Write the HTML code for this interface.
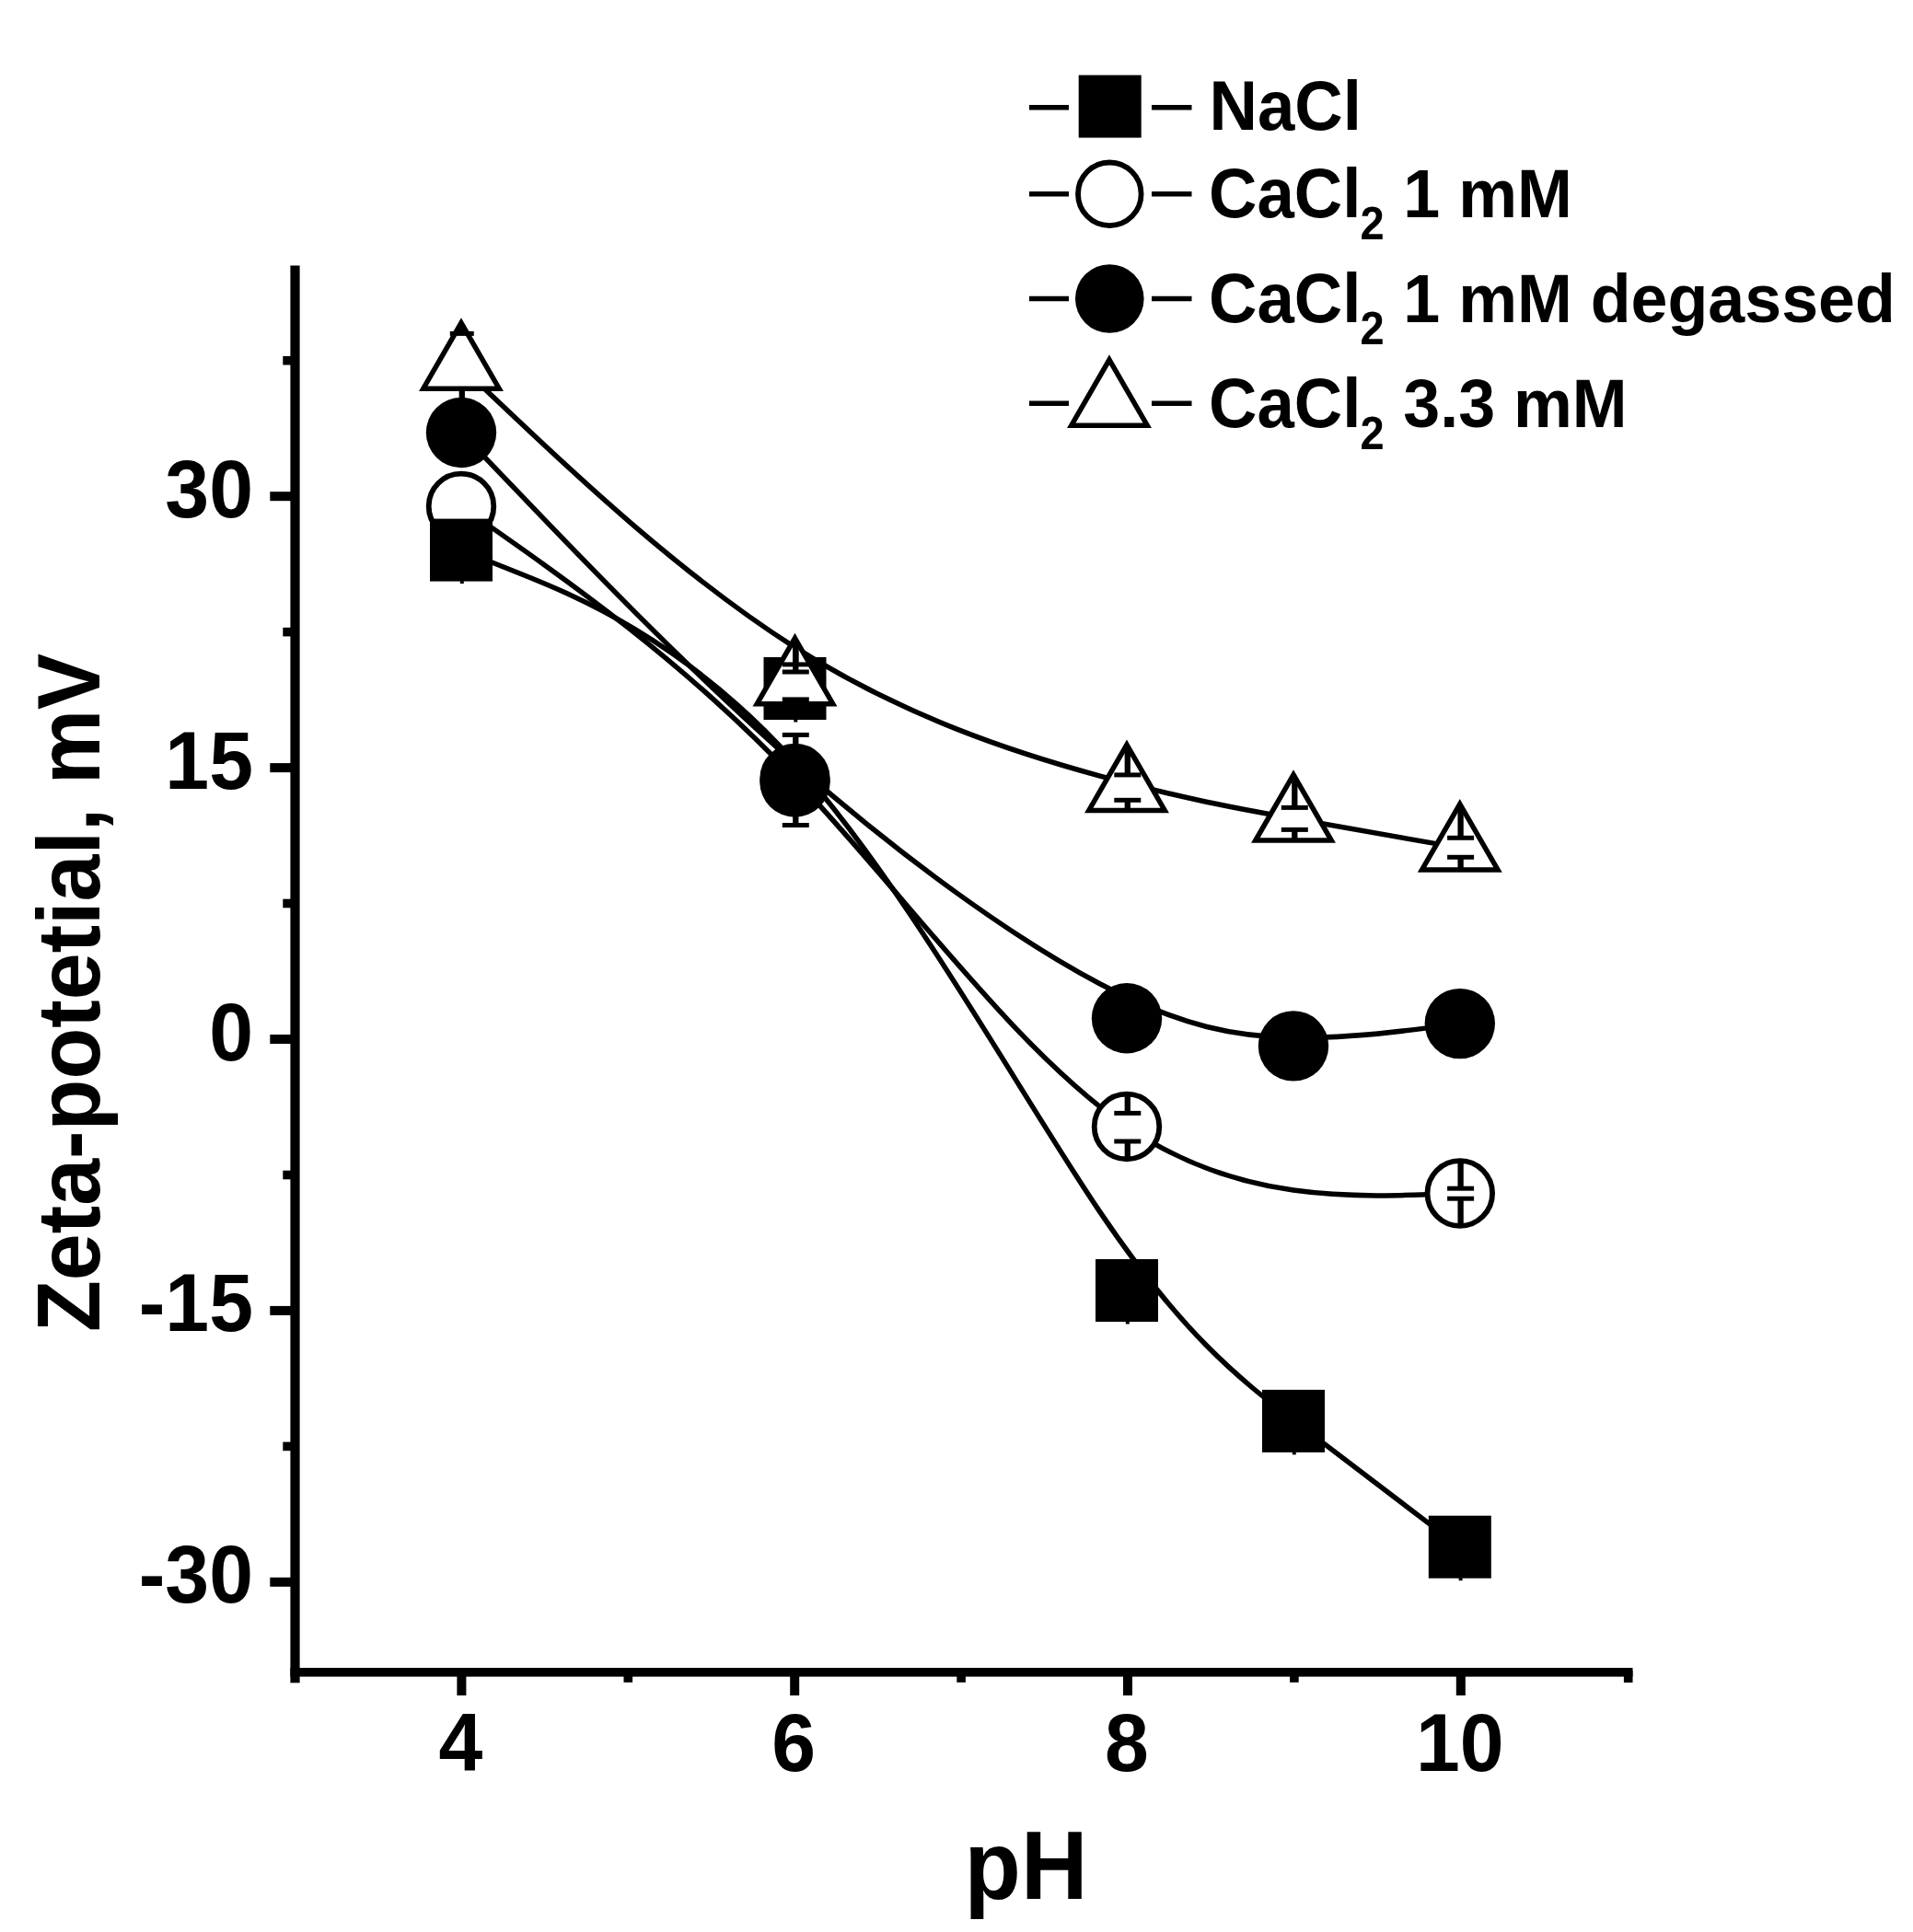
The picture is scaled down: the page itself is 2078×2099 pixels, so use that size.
<!DOCTYPE html>
<html><head><meta charset="utf-8"><title>Zeta-potential vs pH</title>
<style>html,body{margin:0;padding:0;background:#fff}svg{display:block;filter:blur(0.6px)}</style></head>
<body>
<svg width="2078" height="2099" viewBox="0 0 2078 2099">
<rect width="2078" height="2099" fill="#fff"/>
<g fill="#000">
<rect x="315.4" y="288.5" width="10.2" height="1539.8"/>
<rect x="315.4" y="1812" width="1458.1" height="9.6"/>
<rect x="293.3" y="534.2" width="24" height="10"/>
<rect x="293.3" y="829.1" width="24" height="10"/>
<rect x="293.3" y="1124.0" width="24" height="10"/>
<rect x="293.3" y="1418.9" width="24" height="10"/>
<rect x="293.3" y="1713.8" width="24" height="10"/>
<rect x="307.3" y="386.9" width="10" height="9.6"/>
<rect x="307.3" y="681.8" width="10" height="9.6"/>
<rect x="307.3" y="976.7" width="10" height="9.6"/>
<rect x="307.3" y="1271.7" width="10" height="9.6"/>
<rect x="307.3" y="1566.6" width="10" height="9.6"/>
<rect x="496.4" y="1815" width="10" height="27"/>
<rect x="858.2" y="1815" width="10" height="27"/>
<rect x="1220.0" y="1815" width="10" height="27"/>
<rect x="1581.8" y="1815" width="10" height="27"/>
<rect x="677.5" y="1815" width="9.6" height="12.8"/>
<rect x="1039.3" y="1815" width="9.6" height="12.8"/>
<rect x="1401.1" y="1815" width="9.6" height="12.8"/>
<rect x="1763.9" y="1815" width="9.6" height="13"/>
</g>
<g font-family="'Liberation Sans', Arial, sans-serif" font-weight="bold" fill="#000">
<text transform="translate(275 561.67) scale(1 1.045)" font-size="86" text-anchor="end">30</text>
<text transform="translate(275 856.585) scale(1 1.045)" font-size="86" text-anchor="end">15</text>
<text transform="translate(275 1151.5) scale(1 1.045)" font-size="86" text-anchor="end">0</text>
<text transform="translate(275 1446.41) scale(1 1.045)" font-size="86" text-anchor="end">-15</text>
<text transform="translate(275 1741.33) scale(1 1.045)" font-size="86" text-anchor="end">-30</text>
<text transform="translate(500.4 1923.5) scale(1 1.045)" font-size="86" text-anchor="middle">4</text>
<text transform="translate(862.2 1923.5) scale(1 1.045)" font-size="86" text-anchor="middle">6</text>
<text transform="translate(1224 1923.5) scale(1 1.045)" font-size="86" text-anchor="middle">8</text>
<text transform="translate(1585.8 1923.5) scale(1 1.045)" font-size="86" text-anchor="middle">10</text>
<text transform="translate(1114.5 2063) scale(1 1.055)" font-size="100.5" text-anchor="middle">pH</text>
<text transform="translate(107.5 1078.5) rotate(-90) scale(1 1.055)" font-size="91.5" text-anchor="middle">Zeta-potetial, mV</text>
<text transform="translate(1313.5 141) scale(1 1.035)" font-size="72.6" text-anchor="start">NaCl</text>
<text transform="translate(1313 236) scale(1 1.035)" font-size="72.6" text-anchor="start">CaCl</text>
<text transform="translate(1477.5 260.2) scale(1 1.06)" font-size="47" text-anchor="start">2</text>
<text transform="translate(1524.3 236) scale(1 1.035)" font-size="71.8" text-anchor="start">1 mM</text>
<text transform="translate(1313 349.8) scale(1 1.035)" font-size="72.6" text-anchor="start">CaCl</text>
<text transform="translate(1477.5 374) scale(1 1.06)" font-size="47" text-anchor="start">2</text>
<text transform="translate(1524.3 349.8) scale(1 1.035)" font-size="71.8" text-anchor="start">1 mM degassed</text>
<text transform="translate(1313 464) scale(1 1.035)" font-size="72.6" text-anchor="start">CaCl</text>
<text transform="translate(1477.5 488.2) scale(1 1.06)" font-size="47" text-anchor="start">2</text>
<text transform="translate(1524.3 464) scale(1 1.035)" font-size="71.8" text-anchor="start">3.3 mM</text>
</g>
<path d="M501.0 550.0C621.8 634.3 742.7 718.7 863.5 846.0C983.7 972.6 1103.8 1141.8 1224.0 1224.0C1344.6 1306.5 1465.2 1301.5 1585.8 1296.5" fill="none" stroke="#000" stroke-width="5.5" stroke-linecap="butt"/>
<circle cx="501.0" cy="550.0" r="35.3" fill="#fff" stroke="#000" stroke-width="5.8"/>
<circle cx="863.5" cy="846.0" r="35.3" fill="#fff" stroke="#000" stroke-width="5.8"/>
<circle cx="1224.0" cy="1224.0" r="35.3" fill="#fff" stroke="#000" stroke-width="5.8"/>
<circle cx="1585.8" cy="1296.5" r="35.3" fill="#fff" stroke="#000" stroke-width="5.8"/>
<path d="M501.0 470.0C501.0 470.0 501.0 470.0 561.4 533.2C621.8 596.5 742.7 723.0 863.2 829.1C983.7 935.1 1103.8 1020.7 1194.1 1068.5C1284.3 1116.3 1344.7 1126.4 1405.0 1127.3C1465.3 1128.3 1525.5 1120.2 1555.7 1116.1C1585.8 1112.1 1585.8 1112.1 1585.8 1112.1" fill="none" stroke="#000" stroke-width="5.5" stroke-linecap="butt"/>
<circle cx="501.0" cy="470.0" r="38.2" fill="#000"/>
<circle cx="863.5" cy="849.5" r="38.2" fill="#000"/>
<circle cx="1224.0" cy="1106.3" r="38.2" fill="#000"/>
<circle cx="1405.0" cy="1136.4" r="38.2" fill="#000"/>
<circle cx="1585.8" cy="1112.1" r="38.2" fill="#000"/>
<path d="M501.0 597.6C501.0 597.6 501.0 597.6 561.4 621.7C621.8 645.7 742.7 693.9 863.2 827.9C983.7 962.0 1103.8 1182.0 1194.1 1315.6C1284.3 1449.3 1344.7 1496.6 1405.0 1543.1C1465.3 1589.5 1525.5 1635.1 1555.7 1657.9C1585.8 1680.7 1585.8 1680.7 1585.8 1680.7" fill="none" stroke="#000" stroke-width="5.5" stroke-linecap="butt"/>
<rect x="467.0" y="563.6" width="68" height="68" fill="#000"/>
<rect x="829.5" y="714.0" width="68" height="68" fill="#000"/>
<rect x="1190.0" y="1368.0" width="68" height="68" fill="#000"/>
<rect x="1371.0" y="1509.9" width="68" height="68" fill="#000"/>
<rect x="1551.8" y="1646.7" width="68" height="68" fill="#000"/>
<path d="M501.0 398.4C501.0 398.4 501.0 398.4 561.4 455.5C621.8 512.6 742.7 626.7 863.2 703.1C983.7 779.5 1103.8 818.1 1194.1 842.8C1284.3 867.6 1344.7 878.4 1405.0 889.2C1465.3 899.9 1525.5 910.6 1555.7 915.9C1585.8 921.2 1585.8 921.2 1585.8 921.2" fill="none" stroke="#000" stroke-width="5.5" stroke-linecap="butt"/>
<path d="M501.0 350.8 L542.2 422.2 L459.8 422.2 Z" fill="#fff" stroke="#000" stroke-width="5.5" stroke-linejoin="miter"/>
<path d="M863.5 693.3 L904.7 764.7 L822.3 764.7 Z" fill="#fff" stroke="#000" stroke-width="5.5" stroke-linejoin="miter"/>
<path d="M1224.0 809.1 L1265.2 880.5 L1182.8 880.5 Z" fill="#fff" stroke="#000" stroke-width="5.5" stroke-linejoin="miter"/>
<path d="M1405.0 841.7 L1446.2 913.1 L1363.8 913.1 Z" fill="#fff" stroke="#000" stroke-width="5.5" stroke-linejoin="miter"/>
<path d="M1585.8 873.6 L1627.0 945.0 L1544.6 945.0 Z" fill="#fff" stroke="#000" stroke-width="5.5" stroke-linejoin="miter"/>
<line x1="501.8" y1="356.3" x2="501.8" y2="362.4" stroke="#000" stroke-width="6.3"/>
<line x1="488.8" y1="362.4" x2="514.8" y2="362.4" stroke="#000" stroke-width="5"/>
<line x1="501.8" y1="434.4" x2="501.8" y2="423.0" stroke="#000" stroke-width="6.3"/>
<line x1="864.3" y1="698.8" x2="864.3" y2="721.9" stroke="#000" stroke-width="6.3"/>
<line x1="849.8" y1="721.9" x2="878.8" y2="721.9" stroke="#000" stroke-width="5"/>
<line x1="849.8" y1="759.9" x2="878.8" y2="759.9" stroke="#000" stroke-width="5"/>
<line x1="864.3" y1="759.9" x2="864.3" y2="765.5" stroke="#000" stroke-width="6.3"/>
<line x1="1224.8" y1="814.6" x2="1224.8" y2="841.9" stroke="#000" stroke-width="6.3"/>
<line x1="1210.3" y1="841.9" x2="1239.3" y2="841.9" stroke="#000" stroke-width="5"/>
<line x1="1210.3" y1="869.3" x2="1239.3" y2="869.3" stroke="#000" stroke-width="5"/>
<line x1="1224.8" y1="869.3" x2="1224.8" y2="881.3" stroke="#000" stroke-width="6.3"/>
<line x1="1406.3" y1="847.3" x2="1406.3" y2="877.4" stroke="#000" stroke-width="6.3"/>
<line x1="1391.8" y1="877.4" x2="1420.8" y2="877.4" stroke="#000" stroke-width="5"/>
<line x1="1391.8" y1="901.4" x2="1420.8" y2="901.4" stroke="#000" stroke-width="5"/>
<line x1="1406.3" y1="901.4" x2="1406.3" y2="914.0" stroke="#000" stroke-width="6.3"/>
<line x1="1586.6" y1="878.7" x2="1586.6" y2="910.3" stroke="#000" stroke-width="6.3"/>
<line x1="1572.1" y1="910.3" x2="1601.1" y2="910.3" stroke="#000" stroke-width="5"/>
<line x1="1572.1" y1="931.3" x2="1601.1" y2="931.3" stroke="#000" stroke-width="5"/>
<line x1="1586.6" y1="931.3" x2="1586.6" y2="945.4" stroke="#000" stroke-width="6.3"/>
<line x1="864.3" y1="700.0" x2="864.3" y2="730.0" stroke="#000" stroke-width="6.3"/>
<line x1="849.8" y1="730.0" x2="878.8" y2="730.0" stroke="#000" stroke-width="5"/>
<line x1="864.3" y1="798.4" x2="864.3" y2="815.0" stroke="#000" stroke-width="6.3"/>
<line x1="849.8" y1="798.4" x2="878.8" y2="798.4" stroke="#000" stroke-width="5"/>
<line x1="864.3" y1="884.0" x2="864.3" y2="896.5" stroke="#000" stroke-width="6.3"/>
<line x1="849.8" y1="896.5" x2="878.8" y2="896.5" stroke="#000" stroke-width="5"/>
<line x1="1224.8" y1="1188.0" x2="1224.8" y2="1209.4" stroke="#000" stroke-width="6.3"/>
<line x1="1210.3" y1="1209.4" x2="1239.3" y2="1209.4" stroke="#000" stroke-width="5"/>
<line x1="1210.3" y1="1240.0" x2="1239.3" y2="1240.0" stroke="#000" stroke-width="5"/>
<line x1="1224.8" y1="1240.0" x2="1224.8" y2="1260.0" stroke="#000" stroke-width="6.3"/>
<line x1="1586.6" y1="1260.0" x2="1586.6" y2="1291.2" stroke="#000" stroke-width="6.3"/>
<line x1="1572.1" y1="1291.2" x2="1601.1" y2="1291.2" stroke="#000" stroke-width="5"/>
<line x1="1572.1" y1="1302.2" x2="1601.1" y2="1302.2" stroke="#000" stroke-width="5"/>
<line x1="1586.6" y1="1302.2" x2="1586.6" y2="1333.0" stroke="#000" stroke-width="6.3"/>
<rect x="499.8" y="631.1" width="4" height="3" fill="#000"/>
<rect x="862.3" y="781.5" width="4" height="3" fill="#000"/>
<rect x="1222.8" y="1435.5" width="4" height="3" fill="#000"/>
<rect x="1403.8" y="1577.4" width="4" height="3" fill="#000"/>
<rect x="1584.6" y="1714.2" width="4" height="3" fill="#000"/>
<line x1="1118" y1="116.8" x2="1161" y2="116.8" stroke="#000" stroke-width="5.5"/>
<line x1="1251" y1="116.8" x2="1294.5" y2="116.8" stroke="#000" stroke-width="5.5"/>
<rect x="1171.7" y="81.6" width="68" height="68" fill="#000"/>
<line x1="1118" y1="210.8" x2="1161" y2="210.8" stroke="#000" stroke-width="5.5"/>
<line x1="1251" y1="210.8" x2="1294.5" y2="210.8" stroke="#000" stroke-width="5.5"/>
<circle cx="1205.3" cy="210.8" r="34.3" fill="#fff" stroke="#000" stroke-width="5.8"/>
<line x1="1118" y1="324.5" x2="1161" y2="324.5" stroke="#000" stroke-width="5.5"/>
<line x1="1251" y1="324.5" x2="1294.5" y2="324.5" stroke="#000" stroke-width="5.5"/>
<circle cx="1205.3" cy="324.5" r="37.3" fill="#000"/>
<line x1="1118" y1="438.2" x2="1161" y2="438.2" stroke="#000" stroke-width="5.5"/>
<line x1="1251" y1="438.2" x2="1294.5" y2="438.2" stroke="#000" stroke-width="5.5"/>
<path d="M1205.0 390.8 L1246.2 462.2 L1163.8 462.2 Z" fill="#fff" stroke="#000" stroke-width="5.5" stroke-linejoin="miter"/>
</svg>
</body></html>
